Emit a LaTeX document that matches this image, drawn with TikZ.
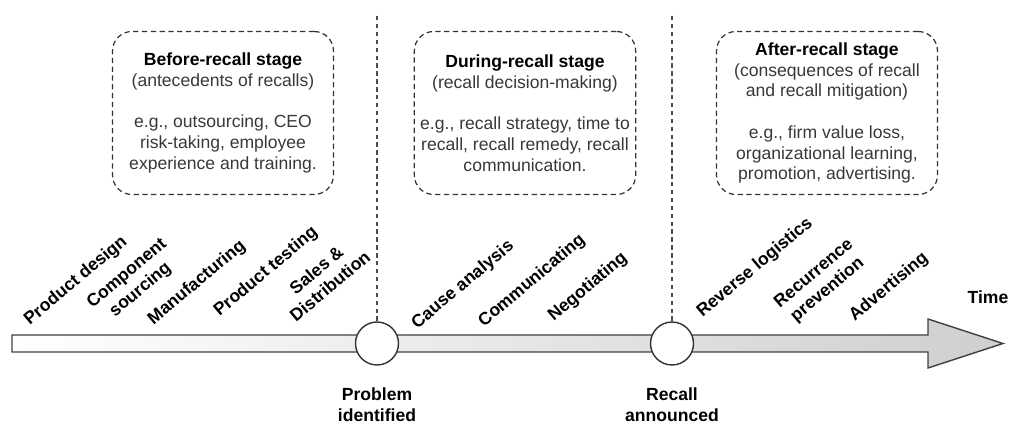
\documentclass[tikz,border=0pt]{standalone}
\usepackage{fontspec}
\setmainfont{Liberation Sans}
\usetikzlibrary{calc}

\tikzset{
	stagebox/.style={draw=black!80, line width=0.7pt, dash pattern=on 3pt off 2pt,
		rounded corners=11pt, minimum width=4.42cm, minimum height=3.26cm,
		align=center, text=black!78, font=\fontsize{10}{11.8}\selectfont},
	activity/.style={rotate=40, align=center, inner sep=0pt,
		font=\bfseries\fontsize{10}{12}\selectfont},
	milestone/.style={circle, draw=black!80, fill=white, line width=0.8pt,
		minimum size=0.86cm, inner sep=0pt},
	event/.style={align=center, inner sep=1pt, font=\bfseries\fontsize{10}{12}\selectfont},
	divider/.style={draw=black!70, line width=0.7pt, dash pattern=on 2.5pt off 2pt},
}

\begin{document}
\begin{tikzpicture}[x=0.02cm, y=-0.02cm]

% parameters %{{{2

	\def\axis{343.5}
	\def\bartop{335}
	\def\barbot{352}
	\def\headback{928}

	\useasboundingbox (0,0) rectangle (1011,425);

% time arrow %{{{2

	\path[draw=black!75, line width=0.8pt, left color=white, right color=gray!38]
		(12,\bartop) -- (\headback,\bartop) -- (\headback,319) -- (1003,\axis)
		-- (\headback,368) -- (\headback,\barbot) -- (12,\barbot) -- cycle;

% milestones %{{{2

	\node[milestone] (prob) at (377,\axis) {};
	\node[milestone] (ann) at (672,\axis) {};

	\coordinate (top1) at (377,16);
	\coordinate (top2) at (672,16);

	\draw[divider] (top1) -- (prob.north);
	\draw[divider] (top2) -- (ann.north);

	\node[event] (probtxt) at (377,405) {Problem\\identified};
	\node[event] (anntxt) at (672,405) {Recall\\announced};
	\node[event] (time) at (988,297) {Time};

% stage boxes %{{{2

	\node[stagebox] (before) at (223,113) {{\color{black}\bfseries Before-recall stage}\\
		(antecedents of recalls)\\[11.8pt]
		e.g., outsourcing, CEO\\risk-taking, employee\\experience and training.};

	\node[stagebox] (during) at (525,113) {{\color{black}\bfseries During-recall stage}\\
		(recall decision-making)\\[11.8pt]
		e.g., recall strategy, time to\\recall, recall remedy, recall\\communication.};

	\node[stagebox] (after) at (827,113) {{\color{black}\bfseries After-recall stage}\\
		(consequences of recall\\and recall mitigation)\\[11.8pt]
		e.g., firm value loss,\\organizational learning,\\promotion, advertising.};

% activities along the arrow %{{{2

	\foreach \x/\y/\txt [count=\i] in {
		76/281/{Product design},
		134/282/{Component\\sourcing},
		197/283/{Manufacturing},
		266/272/{Product testing},
		323/278/{Sales \&\\Distribution},
		463/285/{Cause analysis},
		532/281/{Communicating},
		588/287/{Negotiating},
		755/268/{Reverse logistics},
		821/282/{Recurrence\\prevention},
		889/287/{Advertising}} {
		\node[activity] (act\i) at (\x,\y) {\txt};
	}

% closing %{{{2

\end{tikzpicture}
\end{document}
